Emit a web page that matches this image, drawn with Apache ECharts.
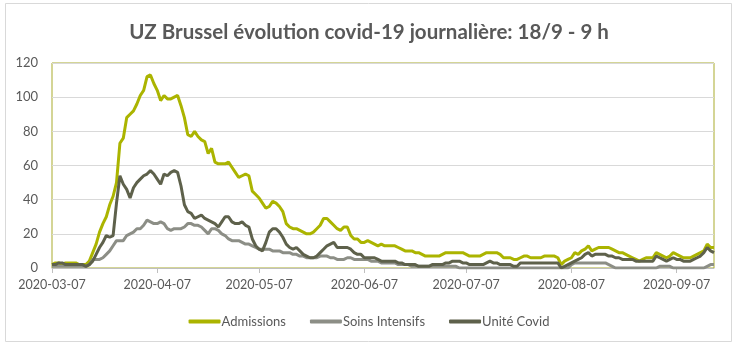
<!DOCTYPE html>
<html><head><meta charset="utf-8">
<script src="https://cdn.jsdelivr.net/npm/echarts@6/dist/echarts.min.js"></script>
<style>html,body{margin:0;padding:0;background:#fff}#c{width:738px;height:350px}</style>
</head><body><div id="c"></div>
<script>
const titleText = 'UZ Brussel évolution covid-19 journalière: 18/9 - 9 h';
const startDate = '2020-03-07';
const dayCount = 196;
const yTicks = [0, 20, 40, 60, 80, 100, 120];
const seriesNames = ['Admissions', 'Soins Intensifs', 'Unité Covid'];

const admissions = [2,3,3,2,3,3,3,3,2,2,2,4,9,14,21,26,30,37,42,50,
73,76,88,90,92,96,101,104,112,113,108,104,98,101,99,99,100,101,95,88,
78,77,80,77,75,74,67,70,62,61,61,61,62,59,56,53,54,55,54,45,
43,41,38,35,36,39,38,36,33,26,24,23,23,22,21,20,20,21,23,25,
29,29,27,25,23,22,24,24,19,17,17,15,15,16,15,14,13,14,13,13,
13,13,12,11,10,10,10,9,9,8,7,7,7,7,7,8,9,9,9,9,
9,9,8,7,7,7,7,8,9,9,9,9,8,6,6,6,5,5,6,7,
7,6,6,6,6,7,7,7,7,6,2,4,5,6,9,8,10,11,13,10,
11,12,12,12,12,11,10,9,9,8,7,6,5,4,5,6,6,6,9,8,
7,6,7,9,8,7,6,6,6,7,8,9,10,14,12,12];

const soinsIntensifs = [1,1,1,1,1,1,1,1,1,1,1,2,5,5,5,6,8,10,13,16,
16,16,19,20,21,23,23,25,28,27,26,26,27,26,23,22,23,23,23,24,
26,26,25,25,24,22,20,23,23,22,20,19,17,16,16,16,15,14,14,13,
12,11,11,11,11,10,10,10,9,9,9,8,8,7,7,6,6,6,6,7,
7,7,6,6,5,5,5,6,6,5,5,5,5,5,4,4,4,3,3,3,
3,3,2,2,2,2,1,1,1,1,1,1,1,1,1,1,1,1,1,1,
0,0,0,0,0,0,0,0,0,0,0,0,0,0,0,0,0,0,0,0,
0,0,0,0,0,0,0,0,0,0,0,0,0,2,3,3,3,3,3,3,
3,3,3,3,2,1,0,0,0,0,0,0,0,0,0,0,0,0,0,1,
1,1,1,0,0,0,0,0,0,0,0,0,0,1,2,2];

const uniteCovid = [2,2,3,3,2,2,2,2,2,2,1,2,4,8,12,15,19,18,19,38,
54,49,46,41,47,50,52,54,55,57,55,52,49,55,54,56,57,56,48,37,
33,32,29,30,31,29,28,27,26,24,27,30,30,27,26,26,27,25,24,17,
13,11,10,15,21,23,23,21,18,14,12,11,12,10,8,7,6,6,7,9,
11,13,14,15,12,12,12,12,11,9,8,8,6,6,6,6,5,4,4,4,
4,4,3,3,2,2,2,2,1,1,1,1,2,2,2,2,3,3,4,4,
4,3,3,2,2,2,2,2,3,4,3,3,2,2,2,2,1,1,3,3,
3,3,3,3,3,3,3,3,3,3,0,1,2,3,4,5,6,8,9,7,
8,8,8,8,7,7,6,6,5,5,5,5,4,4,4,4,4,4,7,6,
5,4,5,6,5,5,4,4,4,5,6,7,9,12,10,9];

const categories = [];
{
  const d0 = new Date(startDate + 'T00:00:00Z');
  for (let i = 0; i < dayCount; i++) {
    const d = new Date(d0.getTime() + i * 86400000);
    categories.push(d.toISOString().slice(0, 10));
  }
}
const isLabelDay = (i, v) => categories[i].endsWith('-07');

const colors = ['#abb400', '#8c8e86', '#5e614b'];
const chart = echarts.init(document.getElementById('c'), null, {renderer: 'canvas'});
const font = 'Lato, "Open Sans", sans-serif';
chart.setOption({
  animation: false,
  backgroundColor: '#fff',
  title: {
    text: titleText, left: 'center', top: 17,
    textStyle: {fontFamily: font, fontSize: 20.5, fontWeight: 'bold', color: '#595959'}
  },
  graphic: [{
    type: 'rect', shape: {x: 5.5, y: 3.5, width: 726, height: 338},
    style: {fill: 'none', stroke: '#d9d9d9', lineWidth: 1}, silent: true, z: -1
  }],
  legend: {
    bottom: 17, left: 'center', itemWidth: 32, itemHeight: 4, itemGap: 24,
    icon: 'roundRect',
    textStyle: {fontFamily: font, fontSize: 13, color: '#595959', padding: [0, 0, 0, -4]},
    data: seriesNames
  },
  grid: {left: 52, right: 24, top: 63, bottom: 82, show: true, borderColor: '#a9ab2c', borderWidth: 1},
  xAxis: {
    type: 'category', data: categories, boundaryGap: false,
    axisLine: {lineStyle: {color: '#bfbfbf'}},
    axisTick: {interval: isLabelDay, length: 5, lineStyle: {color: '#bfbfbf'}},
    axisLabel: {interval: isLabelDay, color: '#595959', fontFamily: font, fontSize: 12.5, margin: 10},
    splitLine: {show: false}
  },
  yAxis: {
    type: 'value', min: yTicks[0], max: yTicks[yTicks.length - 1], interval: 20,
    axisLine: {show: false}, axisTick: {show: false},
    axisLabel: {color: '#595959', fontFamily: font, fontSize: 13, margin: 14},
    splitLine: {lineStyle: {color: '#d9d9d9'}}
  },
  series: [
    {name: seriesNames[0], type: 'line', data: admissions, symbol: 'none', color: colors[0], lineStyle: {width: 3, color: colors[0]}},
    {name: seriesNames[1], type: 'line', data: soinsIntensifs, symbol: 'none', color: colors[1], lineStyle: {width: 3, color: colors[1]}},
    {name: seriesNames[2], type: 'line', data: uniteCovid, symbol: 'none', color: colors[2], lineStyle: {width: 3, color: colors[2]}}
  ]
});
</script></body></html>
